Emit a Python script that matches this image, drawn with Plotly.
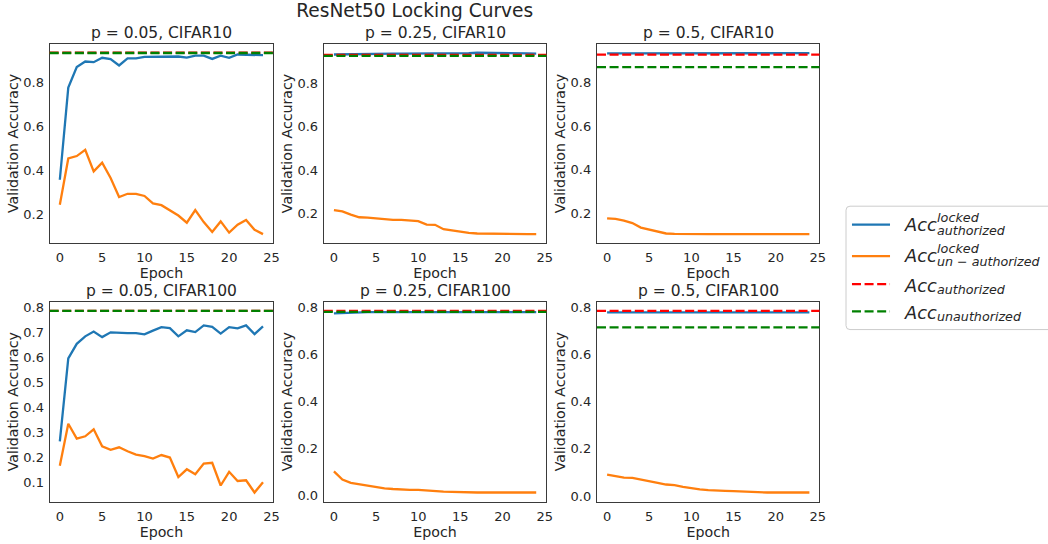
import plotly.graph_objects as go

# ---------------- data ----------------
epochs = list(range(25))

titles = ["p = 0.05, CIFAR10", "p = 0.25, CIFAR10", "p = 0.5, CIFAR10",
          "p = 0.05, CIFAR100", "p = 0.25, CIFAR100", "p = 0.5, CIFAR100"]

# locked model, authorized accuracy
c10_p005_locked_auth = [0.356, 0.776, 0.870, 0.895, 0.892, 0.912, 0.906, 0.877, 0.909, 0.909,
                        0.916, 0.916, 0.915, 0.918, 0.918, 0.913, 0.922, 0.922, 0.907, 0.922,
                        0.912, 0.927, 0.927, 0.927, 0.924]
c10_p025_locked_auth = [0.933, 0.934, 0.935, 0.936, 0.936, 0.937, 0.937, 0.937, 0.937, 0.937,
                        0.937, 0.937, 0.937, 0.938, 0.938, 0.938, 0.939, 0.941, 0.941, 0.941,
                        0.940, 0.939, 0.938, 0.938, 0.937]
c10_p05_locked_auth = [0.936, 0.936, 0.937, 0.937, 0.937, 0.937, 0.937, 0.937, 0.937, 0.938,
                       0.938, 0.939, 0.939, 0.938, 0.937, 0.937, 0.937, 0.937, 0.938, 0.939,
                       0.939, 0.938, 0.937, 0.937, 0.937]
c100_p005_locked_auth = [0.265, 0.597, 0.655, 0.685, 0.704, 0.682, 0.701, 0.698, 0.698, 0.698,
                         0.693, 0.708, 0.722, 0.718, 0.685, 0.709, 0.702, 0.729, 0.723, 0.696,
                         0.722, 0.717, 0.729, 0.694, 0.725]
c100_p025_locked_auth = [0.776, 0.778, 0.780, 0.782, 0.782, 0.782, 0.782, 0.782, 0.782, 0.782,
                         0.782, 0.782, 0.782, 0.782, 0.782, 0.782, 0.782, 0.782, 0.782, 0.782,
                         0.782, 0.782, 0.782, 0.782, 0.782]
c100_p05_locked_auth = [0.780, 0.780, 0.781, 0.781, 0.781, 0.782, 0.782, 0.782, 0.781, 0.782,
                        0.783, 0.783, 0.782, 0.781, 0.781, 0.782, 0.782, 0.782, 0.781, 0.781,
                        0.782, 0.782, 0.782, 0.782, 0.780]

# locked model, un-authorized accuracy
c10_p005_locked_unauth = [0.242, 0.453, 0.464, 0.492, 0.394, 0.434, 0.364, 0.277, 0.292, 0.292,
                          0.282, 0.248, 0.240, 0.215, 0.193, 0.160, 0.218, 0.163, 0.118, 0.166,
                          0.115, 0.151, 0.173, 0.128, 0.108]
c10_p025_locked_unauth = [0.215, 0.209, 0.194, 0.182, 0.180, 0.177, 0.171, 0.170, 0.170, 0.167,
                          0.164, 0.148, 0.147, 0.127, 0.121, 0.115, 0.110, 0.107, 0.106, 0.105,
                          0.104, 0.104, 0.104, 0.104, 0.104]
c10_p05_locked_unauth = [0.176, 0.173, 0.165, 0.154, 0.133, 0.124, 0.112, 0.106, 0.104, 0.103,
                         0.103, 0.103, 0.103, 0.103, 0.103, 0.103, 0.103, 0.103, 0.103, 0.103,
                         0.103, 0.103, 0.103, 0.103, 0.103]
c100_p005_locked_unauth = [0.167, 0.335, 0.276, 0.285, 0.313, 0.245, 0.231, 0.241, 0.225, 0.212,
                           0.206, 0.196, 0.210, 0.200, 0.122, 0.153, 0.133, 0.176, 0.179, 0.088,
                           0.143, 0.106, 0.109, 0.060, 0.101]
c100_p025_locked_unauth = [0.104, 0.069, 0.055, 0.049, 0.043, 0.036, 0.032, 0.029, 0.026, 0.025,
                           0.025, 0.022, 0.019, 0.018, 0.017, 0.015, 0.014, 0.014, 0.014, 0.014,
                           0.014, 0.014, 0.014, 0.014, 0.014]
c100_p05_locked_unauth = [0.091, 0.084, 0.078, 0.077, 0.069, 0.063, 0.056, 0.049, 0.046, 0.039,
                          0.032, 0.028, 0.025, 0.022, 0.022, 0.021, 0.019, 0.018, 0.015, 0.015,
                          0.015, 0.015, 0.015, 0.015, 0.015]

# reference (un-locked) accuracies drawn as horizontal dashed lines
ref_authorized = [0.935, 0.931, 0.930, 0.787, 0.787, 0.786]
ref_unauthorized = [0.934, 0.927, 0.873, 0.787, 0.783, 0.716]

locked_auth = [c10_p005_locked_auth, c10_p025_locked_auth, c10_p05_locked_auth,
               c100_p005_locked_auth, c100_p025_locked_auth, c100_p05_locked_auth]
locked_unauth = [c10_p005_locked_unauth, c10_p025_locked_unauth, c10_p05_locked_unauth,
                 c100_p005_locked_unauth, c100_p025_locked_unauth, c100_p05_locked_unauth]
ytick_steps = [0.2, 0.2, 0.2, 0.1, 0.2, 0.2]

# ---------------- layout helpers ----------------
W, H = 1048, 544
FONT = "DejaVu Sans"
TXT = "#262626"
BLUE, ORANGE, RED, GREEN = "#1f77b4", "#ff7f0e", "#ff0000", "#008000"
LW = 2.3


def px(x):
    return x / W


def py(y):
    return 1 - y / H


col_px = [(50, 275), (326, 550), (601, 825)]
row_px = [(42, 243), (302, 503.3)]

fig = go.Figure()
layout = dict(
    width=W, height=H, autosize=False,
    margin=dict(l=0, r=0, t=0, b=0),
    paper_bgcolor="white", plot_bgcolor="white",
    showlegend=False,
    font=dict(family=FONT, color=TXT),
    title=dict(text="ResNet50 Locking Curves", x=px(417.5), xref="paper", xanchor="center",
               y=py(10), yref="container", yanchor="middle",
               font=dict(size=18.6, color=TXT, family=FONT)),
)
annotations = []
shapes = []

for i in range(6):
    r, c = divmod(i, 3)
    k = "" if i == 0 else str(i + 1)
    xa, ya = "x" + k, "y" + k
    auth, unauth = locked_auth[i], locked_unauth[i]
    fig.add_trace(go.Scatter(x=epochs, y=auth, mode="lines", xaxis=xa, yaxis=ya,
                             line=dict(color=BLUE, width=LW), name="locked authorized"))
    fig.add_trace(go.Scatter(x=epochs, y=unauth, mode="lines", xaxis=xa, yaxis=ya,
                             line=dict(color=ORANGE, width=LW), name="locked un-authorized"))
    for val, colr in ((ref_authorized[i], RED), (ref_unauthorized[i], GREEN)):
        shapes.append(dict(type="line", xref=xa + " domain", yref=ya, x0=0, x1=1, y0=val, y1=val,
                           line=dict(color=colr, width=LW, dash="9px,3.6px"), layer="above"))

    vals = auth + unauth + [ref_authorized[i], ref_unauthorized[i]]
    lo, hi = min(vals), max(vals)
    span = hi - lo
    yr = [lo - 0.05 * span, hi + 0.05 * span]
    x0p, x1p = col_px[c]
    y0p, y1p = row_px[r]
    axis_common = dict(showgrid=False, zeroline=False, showline=True, mirror=True,
                       linecolor="#3a3a3a", linewidth=1.25, ticks="outside",
                       tickcolor="rgba(0,0,0,0)",
                       tickfont=dict(size=13, color=TXT, family=FONT))
    layout["xaxis" + k] = dict(axis_common, domain=[px(x0p), px(x1p)], anchor=ya, ticklen=2.5,
                               range=[-1.2, 25.2], tick0=0, dtick=5,
                               title=dict(text="Epoch", font=dict(size=14.2, color=TXT, family=FONT),
                                          standoff=0))
    layout["yaxis" + k] = dict(axis_common, domain=[py(y1p), py(y0p)], anchor=xa, ticklen=2,
                               range=yr, tick0=0, dtick=ytick_steps[i], tickformat=".1f",
                               title=dict(text="Validation Accuracy",
                                          font=dict(size=14.2, color=TXT, family=FONT),
                                          standoff=1))
    annotations.append(dict(text=titles[i], xref="paper", yref="paper",
                            x=px((x0p + x1p) / 2), y=py(y0p - 10.7), xanchor="center",
                            yanchor="middle", showarrow=False,
                            font=dict(size=15.5, color=TXT, family=FONT)))

# ---------------- hand-drawn legend ----------------
lx0, lx1, ly0, ly1, rad = 851.7, 1060, 205.7, 330, 4
path = (f"M {px(lx0 + rad)},{py(ly0)} L {px(lx1)},{py(ly0)} L {px(lx1)},{py(ly1)} "
        f"L {px(lx0 + rad)},{py(ly1)} Q {px(lx0)},{py(ly1)} {px(lx0)},{py(ly1 - rad)} "
        f"L {px(lx0)},{py(ly0 + rad)} Q {px(lx0)},{py(ly0)} {px(lx0 + rad)},{py(ly0)} Z")
shapes.append(dict(type="path", path=path, xref="paper", yref="paper",
                   line=dict(color="#cccccc", width=1), fillcolor="rgba(255,255,255,0.8)",
                   layer="above"))

legend_rows = [
    (224.3, BLUE, "solid", 223.8, "locked", 217.0, "authorized", 230.2),
    (256.0, ORANGE, "solid", 255.5, "locked", 248.6, "un − authorized", 261.9),
    (284.3, RED, "9px,3.6px", 285.5, None, None, "authorized", 290.0),
    (311.7, GREEN, "9px,3.6px", 312.8, None, None, "unauthorized", 317.3),
]
for ly, colr, dash, acc_y, sup, sup_y, sub, sub_y in legend_rows:
    shapes.append(dict(type="line", xref="paper", yref="paper", x0=px(857.7), x1=px(896),
                       y0=py(ly), y1=py(ly), line=dict(color=colr, width=LW, dash=dash),
                       layer="above"))
    annotations.append(dict(text="<i>Acc</i>", xref="paper", yref="paper", x=px(908),
                            y=py(acc_y), xanchor="left", yanchor="middle", showarrow=False,
                            font=dict(size=17.8, color=TXT, family=FONT)))
    if sup:
        annotations.append(dict(text=f"<i>{sup}</i>", xref="paper", yref="paper", x=px(942),
                                y=py(sup_y), xanchor="left", yanchor="middle", showarrow=False,
                                borderpad=0, font=dict(size=12.8, color=TXT, family=FONT)))
    annotations.append(dict(text=f"<i>{sub}</i>", xref="paper", yref="paper", x=px(942),
                            y=py(sub_y), xanchor="left", yanchor="middle", showarrow=False,
                            borderpad=0, font=dict(size=12.7, color=TXT, family=FONT)))

layout["annotations"] = annotations
layout["shapes"] = shapes
fig.update_layout(**layout)
fig.write_html("out.html", config={"displayModeBar": False},
               post_script="document.body.style.margin='0';document.body.style.overflow='hidden';")
